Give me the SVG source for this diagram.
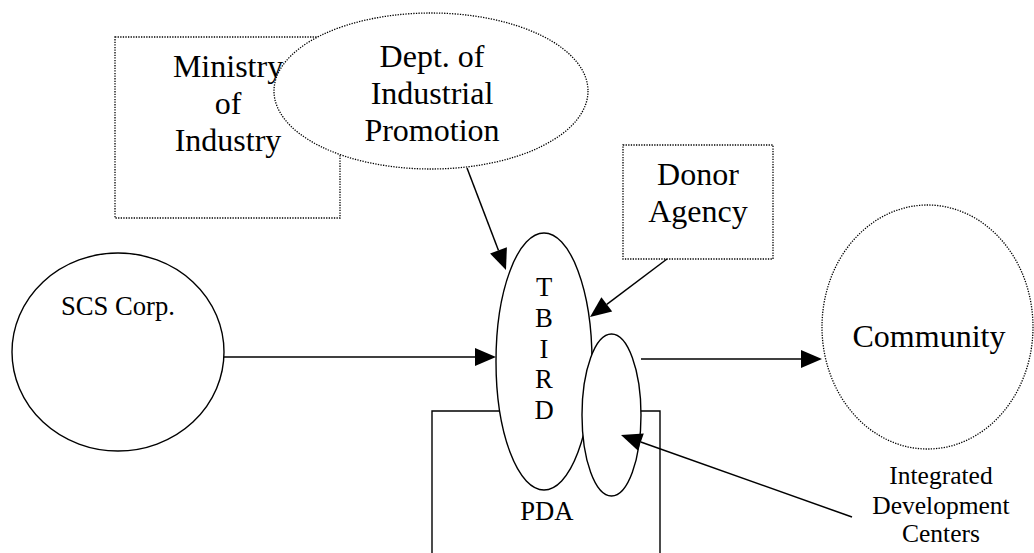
<svg xmlns="http://www.w3.org/2000/svg" width="1034" height="553" viewBox="0 0 1034 553">
  <rect width="1034" height="553" fill="#fff"/>

  <!-- dotted outlines: ministry, department, donor, community -->
  <g id="ministry">
    <rect x="115" y="37" width="225" height="181" fill="#fff" stroke="#000" stroke-width="1.3" stroke-dasharray="1.3 1.3"/>
    <text x="172.9" y="77" font-family="Liberation Serif, serif" font-size="32">Ministry</text>
    <text x="214.7" y="114" font-family="Liberation Serif, serif" font-size="32">of</text>
    <text x="174.7" y="151" font-family="Liberation Serif, serif" font-size="32">Industry</text>
  </g>

  <g id="dept">
    <ellipse cx="431" cy="91" rx="157" ry="78" fill="#fff" stroke="#000" stroke-width="1.3" stroke-dasharray="1.3 1.3"/>
    <text x="379.6" y="67" font-family="Liberation Serif, serif" font-size="32">Dept. of</text>
    <text x="370.7" y="104" font-family="Liberation Serif, serif" font-size="32">Industrial</text>
    <text x="364.4" y="141" font-family="Liberation Serif, serif" font-size="32">Promotion</text>
  </g>

  <g id="donor">
    <rect x="623" y="145" width="150" height="114" fill="#fff" stroke="#000" stroke-width="1.3" stroke-dasharray="1.3 1.3"/>
    <text x="657.1" y="185" font-family="Liberation Serif, serif" font-size="32">Donor</text>
    <text x="648.2" y="222" font-family="Liberation Serif, serif" font-size="32">Agency</text>
  </g>

  <g id="community">
    <ellipse cx="927.5" cy="327" rx="105.5" ry="122" fill="#fff" stroke="#000" stroke-width="1.3" stroke-dasharray="1.3 1.3"/>
    <text x="852.5" y="347" font-family="Liberation Serif, serif" font-size="32">Community</text>
  </g>

  <!-- solid outlines -->
  <g id="scs">
    <ellipse cx="118" cy="352" rx="106" ry="99" fill="#fff" stroke="#000" stroke-width="1.4"/>
    <text x="60.9" y="315" font-family="Liberation Serif, serif" font-size="26.67">SCS Corp.</text>
  </g>

  <g id="pda">
    <path d="M432,560 L432,411 L660,411 L660,560" fill="none" stroke="#000" stroke-width="1.4"/>
    <text x="520.3" y="520" font-family="Liberation Serif, serif" font-size="26.67">PDA</text>
  </g>

  <g id="tbird">
    <ellipse cx="544" cy="361.5" rx="48" ry="128.5" fill="#fff" stroke="#000" stroke-width="1.4"/>
    <text x="535.9" y="296" font-family="Liberation Serif, serif" font-size="26.67">T</text>
    <text x="535.1" y="327" font-family="Liberation Serif, serif" font-size="26.67">B</text>
    <text x="539.6" y="358" font-family="Liberation Serif, serif" font-size="26.67">I</text>
    <text x="535.1" y="388" font-family="Liberation Serif, serif" font-size="26.67">R</text>
    <text x="534.4" y="419" font-family="Liberation Serif, serif" font-size="26.67">D</text>
  </g>

  <g id="idc">
    <ellipse cx="611.5" cy="415" rx="29.5" ry="81" fill="#fff" stroke="#000" stroke-width="1.4"/>
    <text x="889.3" y="484" font-family="Liberation Serif, serif" font-size="25.5">Integrated</text>
    <text x="872.3" y="514" font-family="Liberation Serif, serif" font-size="25.5">Development</text>
    <text x="902" y="542" font-family="Liberation Serif, serif" font-size="25.5">Centers</text>
  </g>

  <!-- arrows: shaft plus filled head at the target end -->
  <g id="connectors" stroke="#000" stroke-width="1.5" fill="#000">
    <line x1="467" y1="168" x2="498.5" y2="250.4"/>
    <polygon points="506,270 490.1,253.6 506.9,247.2" stroke="none"/>
    <line x1="667" y1="259" x2="606.8" y2="304.4"/>
    <polygon points="590,317 601.4,297.2 612.2,311.6" stroke="none"/>
    <line x1="224" y1="357" x2="475" y2="357"/>
    <polygon points="496,357 475,348 475,366" stroke="none"/>
    <line x1="641" y1="359" x2="801" y2="359"/>
    <polygon points="822,359 801,350 801,368" stroke="none"/>
    <line x1="852" y1="517" x2="640.8" y2="442"/>
    <polygon points="621,435 643.8,433.5 637.8,450.5" stroke="none"/>
  </g>
</svg>
